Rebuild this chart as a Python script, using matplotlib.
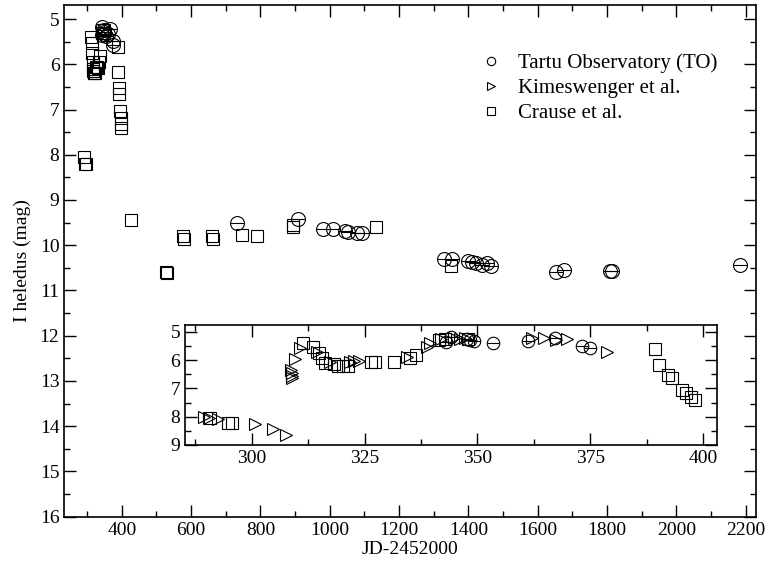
import matplotlib
matplotlib.use('Agg')
import matplotlib.pyplot as plt
from matplotlib.ticker import MultipleLocator

plt.rcParams['font.family'] = ['Liberation Serif', 'DejaVu Serif']
plt.rcParams['font.size'] = 14

# Tartu Observatory (TO)
to_jd = [343.0, 344.2, 347.6, 348.4, 349.3, 353.4, 361.3, 367.2, 373.2, 375.0,
         733, 909, 981, 1010, 1045, 1054, 1080, 1094,
         1330, 1353, 1400, 1411, 1423, 1440, 1454, 1466,
         1653, 1677, 1810, 1814, 2184]
to_mag = [5.35, 5.18, 5.25, 5.28, 5.33, 5.38, 5.33, 5.21, 5.49, 5.57,
          9.50, 9.42, 9.65, 9.65, 9.68, 9.70, 9.72, 9.72,
          10.30, 10.30, 10.35, 10.38, 10.40, 10.43, 10.40, 10.45,
          10.60, 10.55, 10.57, 10.57, 10.43]

# Kimeswenger et al.
kim_jd = [289.3, 290.6, 292.6, 300.6, 304.8, 307.6, 308.7, 308.8, 308.9, 309.0,
          309.6, 310.7, 314.4, 317.4, 321.8, 322.7, 323.8, 334.4, 338.8, 339.4,
          342.0, 344.9, 346.2, 347.2, 362.1, 364.7, 367.5, 369.8, 378.7]
kim_mag = [8.00, 8.06, 8.08, 8.27, 8.45, 8.64, 6.35, 6.47, 6.57, 6.65,
           5.96, 5.59, 5.71, 6.06, 6.06, 6.04, 6.04, 5.90, 5.53, 5.41,
           5.27, 5.22, 5.24, 5.22, 5.23, 5.23, 5.30, 5.27, 5.71]

# Crause et al.
cr_jd = [290.8, 294.8, 295.5, 311.4, 313.5, 314.8, 315.5, 316.3, 318.1, 319.2,
         320.3, 321.4, 326.4, 327.3, 331.4, 335.0, 336.4, 341.5, 342.8, 348.0,
         389.4, 390.3, 392.3, 393.1, 395.3, 396.3, 397.3, 398.3,
         427, 528, 530, 577, 578, 661, 662, 747, 791, 894, 895, 1134, 1350]
cr_mag = [8.06, 8.21, 8.21, 5.39, 5.53, 5.76, 5.94, 6.10, 6.15, 6.20,
          6.20, 6.20, 6.06, 6.06, 6.08, 5.94, 5.82, 5.30, 5.25, 5.25,
          5.62, 6.18, 6.53, 6.65, 7.04, 7.18, 7.32, 7.41,
          9.45, 10.60, 10.62, 9.80, 9.87, 9.80, 9.86, 9.78, 9.80, 9.55, 9.60, 9.60, 10.45]

mk = dict(linestyle='none', fillstyle='none', color='black', markeredgewidth=0.8)


def style_axes(ax, xmaj, xmin, ymaj, ymin):
    ax.xaxis.set_major_locator(MultipleLocator(xmaj))
    ax.xaxis.set_minor_locator(MultipleLocator(xmin))
    ax.yaxis.set_major_locator(MultipleLocator(ymaj))
    ax.yaxis.set_minor_locator(MultipleLocator(ymin))
    ax.tick_params(which='both', direction='in', top=True, right=True, width=1.0)
    ax.tick_params(which='major', length=8.5)
    ax.tick_params(which='minor', length=4.5)
    for s in ax.spines.values():
        s.set_linewidth(1.2)


fig = plt.figure(figsize=(7.69, 5.67), dpi=100)

# main light curve
ax = fig.add_axes([0.0836, 0.0887, 0.8991, 0.9025])
ax.plot(to_jd, to_mag, marker='o', markersize=10, **mk)
ax.plot(to_jd, to_mag, marker='_', markersize=10, **mk)
ax.plot(cr_jd, cr_mag, marker='s', markersize=8, **mk)
ax.set_xlim(234, 2229)
ax.set_ylim(16, 4.69)
style_axes(ax, 200, 100, 1, 0.5)
ax.set_xlabel('JD-2452000', labelpad=2)
ax.set_ylabel('I heledus (mag)', labelpad=6)

# legend handles
h1, = ax.plot([], [], marker='o', markersize=6, label='Tartu Observatory (TO)', **mk)
h2, = ax.plot([], [], marker='>', markersize=6, label='Kimeswenger et al.', **mk)
h3, = ax.plot([], [], marker='s', markersize=5.5, label='Crause et al.', **mk)
ax.legend(handles=[h1, h2, h3], loc='upper left', bbox_to_anchor=(0.59, 0.921),
          frameon=False, fontsize=15, handlelength=1.0, handletextpad=0.8,
          labelspacing=0.25, borderaxespad=0)

# zoom on the first outburst
axi = fig.add_axes([0.2406, 0.2152, 0.6914, 0.2116])
axi.plot(to_jd, to_mag, marker='o', markersize=9, **mk)
axi.plot(to_jd, to_mag, marker='_', markersize=9, **mk)
axi.plot(kim_jd, kim_mag, marker='>', markersize=9, **mk)
axi.plot(cr_jd, cr_mag, marker='s', markersize=8, **mk)
axi.set_xlim(285.2, 403)
axi.set_ylim(9.0, 4.76)
style_axes(axi, 25, 12.5, 1, 0.5)

plt.savefig('out.png', dpi=100)
plt.close()
